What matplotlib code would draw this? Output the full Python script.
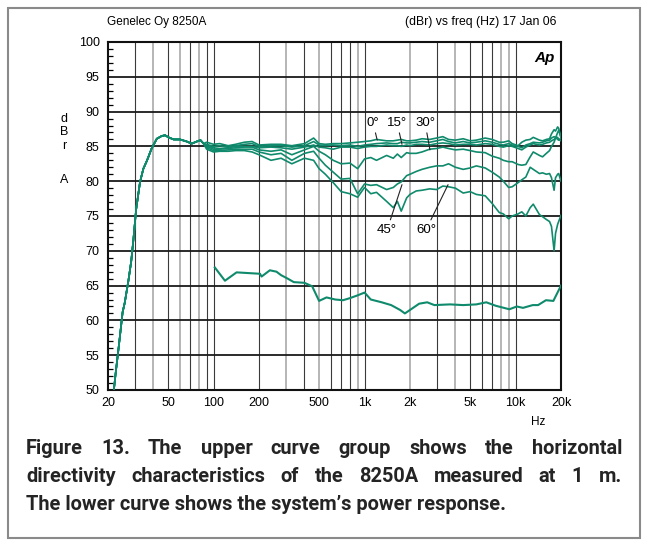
import matplotlib
matplotlib.use("Agg")
import matplotlib.pyplot as plt
from matplotlib.patches import Rectangle

plt.rcParams['font.family'] = ['Liberation Sans', 'DejaVu Sans']

# ---- values ----
# low end, identical for all directivity curves
lf_freq = [21.5, 22.5, 23.5, 25, 25.8, 27.3, 28.5, 29.4, 30.7, 32.6, 34.3, 36.3,
           38.9, 42.1, 45.4, 47.8, 50.3, 54.4, 60, 66.5, 71.7, 77.4, 81.9, 85.9]
lf_db = [48.5, 52.5, 56, 61.2, 62.5, 65.7, 68.5, 71.4, 75.9, 79.9, 81.8, 83.0,
         84.7, 86.1, 86.5, 86.6, 86.3, 86.0, 86.0, 85.7, 85.4, 85.7, 85.9, 85.4]

hf_freq = [90, 100, 110, 125, 140, 160, 180, 200,
           240, 280, 330, 400, 460, 500, 550, 620,
           700, 800, 900, 1000, 1100, 1200, 1400, 1550,
           1650, 1750, 1900, 2000, 2200, 2400, 2700, 3000,
           3300, 3600, 4000, 4500, 5000, 5500, 6300, 7000,
           7800, 8300, 9000, 9500, 10400, 11000, 11700, 12500,
           13100, 14400, 15100, 16000, 16800, 17300, 18000, 18400,
           19000, 19300, 20000]

db_0a = [85.6, 85.3, 85.4, 85.1, 85.3, 85.6, 85.7, 85.2,
         85.3, 85.3, 85.1, 85.4, 86.2, 85.4, 85.3, 85.4,
         85.4, 85.5, 85.6, 85.7, 85.8, 86.0, 85.8, 85.8,
         85.9, 86.0, 85.8, 85.8, 85.9, 86.1, 86.0, 86.2,
         86.4, 86.0, 85.9, 86.1, 85.8, 85.9, 86.2, 86.0,
         85.6, 85.6, 85.8, 85.4, 85.1, 85.6, 85.9, 86.0,
         86.3, 85.9, 85.8, 86.0, 86.1, 86.8, 87.4, 87.2,
         87.8, 87.6, 86.3]
db_0b = [85.3, 85.0, 85.1, 84.9, 85.1, 85.3, 85.4, 85.0,
         85.1, 85.1, 84.9, 85.1, 85.7, 85.2, 85.1, 85.2,
         85.1, 85.2, 85.0, 85.2, 85.3, 85.4, 85.5, 85.4,
         85.4, 85.6, 85.5, 85.5, 85.6, 85.7, 85.6, 85.8,
         86.0, 85.7, 85.5, 85.7, 85.5, 85.6, 85.8, 85.6,
         85.3, 85.2, 85.4, 85.2, 85.0, 84.8, 85.2, 85.4,
         85.6, 85.5, 85.6, 85.8, 85.9, 86.2, 86.4, 86.3,
         86.0, 85.9, 86.2]
db_15 = [85.1, 84.8, 84.7, 84.8, 85.0, 85.0, 85.0, 84.8,
         84.9, 84.8, 84.6, 84.9, 85.2, 84.9, 84.8, 84.6,
         84.9, 84.9, 84.7, 84.9, 85.0, 85.0, 85.2, 85.1,
         85.1, 85.0, 85.2, 85.1, 85.3, 85.3, 85.2, 85.4,
         85.5, 85.4, 85.2, 85.3, 85.3, 85.2, 85.4, 85.3,
         85.0, 84.9, 85.1, 85.0, 84.7, 84.5, 84.9, 85.2,
         85.4, 85.2, 85.3, 85.5, 85.6, 85.8, 86.0, 86.2,
         86.3, 86.0, 85.8]
db_30 = [85.0, 84.6, 84.6, 84.7, 84.8, 84.9, 84.9, 84.5,
         84.3, 84.5, 83.8, 84.5, 85.0, 84.3, 83.8, 83.0,
         82.5, 82.6, 81.8, 83.2, 83.4, 83.0, 83.7, 83.3,
         83.9, 83.4, 84.1, 84.0, 84.0, 84.2, 84.6, 84.7,
         84.9, 84.7, 84.5, 84.6, 84.4, 84.2, 84.1, 83.6,
         83.3, 83.0, 82.8, 82.8, 82.4, 82.3, 82.4, 83.5,
         84.2, 83.7, 83.5, 84.0, 84.4, 85.0, 85.6, 86.2,
         87.0, 87.3, 86.3]
db_45 = [84.8, 84.4, 84.4, 84.5, 84.6, 84.6, 84.6, 84.2,
         83.8, 84.0, 83.0, 84.0, 84.3, 83.3, 82.3, 81.3,
         80.3, 80.4, 78.2, 79.6, 79.4, 79.5, 78.8, 79.1,
         79.6, 79.9, 80.8, 81.0, 81.4, 81.7, 82.0, 82.2,
         82.2, 82.5, 82.0, 81.7, 81.9, 82.2, 81.9, 81.3,
         80.6, 80.0, 79.1, 79.2, 79.8, 80.2, 80.6, 82.0,
         81.7, 81.1, 81.2, 81.0, 81.1, 80.5, 78.7, 80.5,
         81.0, 81.1, 80.0]
db_60 = [84.6, 84.2, 84.3, 84.3, 84.4, 84.4, 84.2, 83.8,
         83.0, 83.3, 82.5, 83.3, 83.0, 81.8, 81.0, 79.8,
         78.5, 78.2, 77.7, 79.1, 78.2, 78.4, 77.1, 76.2,
         77.1, 75.7, 77.6, 78.1, 78.6, 78.7, 78.9, 78.8,
         79.3, 79.2, 79.0, 78.3, 78.5, 78.1, 77.9, 76.8,
         75.5, 75.3, 74.6, 75.0, 75.3, 75.6, 75.0, 76.2,
         76.7, 75.2, 74.9, 74.5, 74.2, 73.5, 70.0, 72.5,
         73.8, 74.2, 75.1]

power_freq = [102, 119, 142, 203, 208, 236, 261, 280, 310, 340,
              400, 450, 500, 560, 640, 720, 800, 900, 1000, 1100,
              1300, 1500, 1720, 1850, 2000, 2300, 2600, 2900, 3680, 4500,
              5500, 6400, 7400, 9100, 10200, 11200, 13000, 14100, 15900, 17800,
              20000]
power_db = [67.6, 65.7, 66.9, 66.7, 66.3, 67.2, 67.0, 66.5, 66.0, 65.5,
            65.4, 64.9, 62.8, 63.3, 63.0, 62.9, 63.2, 63.6, 64.0, 63.0,
            62.6, 62.2, 61.5, 61.0, 61.5, 62.4, 62.6, 62.2, 62.3, 62.2,
            62.3, 62.6, 62.1, 61.6, 62.0, 61.8, 62.2, 62.2, 62.9, 62.8,
            65.0]

x_ticks = [20, 50, 100, 200, 500, 1000, 2000, 5000, 10000, 20000]
x_labels = ['20', '50', '100', '200', '500', '1k', '2k', '5k', '10k', '20k']
y_ticks = [50, 55, 60, 65, 70, 75, 80, 85, 90, 95, 100]

caption = ["Figure 13. The upper curve group shows the horizontal",
           "directivity characteristics of the 8250A measured at 1 m.",
           "The lower curve shows the system\u2019s power response."]

green = '#108a6c'
W, H = 648, 545
fig = plt.figure(figsize=(W / 100, H / 100), dpi=100)
fig.patches.append(Rectangle((8 / W, 0.012), 632 / W, 1 - 8 / H - 0.012,
                             transform=fig.transFigure, fill=False,
                             edgecolor='#8a8a8a', lw=1.5))

ax = fig.add_axes([108 / W, 1 - 390 / H, 453 / W, 348 / H])
ax.set_xscale('log')
ax.set_xlim(20, 20000)
ax.set_ylim(50, 100)

# grid: vertical lines alternate dark / light grey
gray_lines = {40, 60, 80, 300, 500, 900, 1000, 2000, 4000, 8000, 9000}
for dec in [10, 100, 1000]:
    for m in range(2 if dec > 10 else 3, 10):
        f = m * dec
        if f in gray_lines:
            ax.axvline(f, color='#b0b0b0', lw=1.3, zorder=1)
        else:
            ax.axvline(f, color='#3a3a3a', lw=0.8, zorder=1)
    ax.axvline(dec * 10, color='#3a3a3a', lw=0.8, zorder=1)
for y in y_ticks[1:-1]:
    ax.axhline(y, color='#1a1a1a', lw=1.3, zorder=1)

for curve in [db_0a, db_0b, db_15, db_30, db_45, db_60]:
    ax.plot(lf_freq + hf_freq, lf_db + curve, color=green, lw=1.2, zorder=3)
ax.plot(power_freq, power_db, color=green, lw=1.5, zorder=3)

for s in ax.spines.values():
    s.set_linewidth(1.5)
    s.set_color('#111111')

ax.set_xticks(x_ticks)
ax.set_xticklabels(x_labels)
ax.xaxis.set_minor_locator(matplotlib.ticker.NullLocator())
ax.set_yticks(y_ticks)
ax.set_yticks(range(50, 101), minor=True)
ax.tick_params(axis='x', length=0, pad=5, labelsize=9)
ax.tick_params(axis='y', which='major', length=0, pad=6, labelsize=9)
ax.tick_params(axis='y', which='minor', length=3.5, direction='in', width=0.9)

# angle labels
ann = dict(arrowprops=dict(arrowstyle='-', color='#222222', lw=0.8,
                           shrinkA=1, shrinkB=0),
           fontsize=9.5, ha='center', va='center', zorder=5)
ax.annotate('0\u00b0', xy=(1213, 85.9), xytext=(1138, 88.4), **ann)
ax.annotate('15\u00b0', xy=(1770, 85.3), xytext=(1641, 88.4), **ann)
ax.annotate('30\u00b0', xy=(2712, 84.5), xytext=(2514, 88.4), **ann)
ax.annotate('45\u00b0', xy=(1770, 79.5), xytext=(1409, 73.0), **ann)
ax.annotate('60\u00b0', xy=(3573, 79.5), xytext=(2553, 73.0), **ann)

ax.text(0.985, 0.955, 'Ap', transform=ax.transAxes, ha='right', va='center',
        fontsize=11, fontweight='bold', fontstyle='italic')

fig.text(107 / W, 1 - 22 / H, 'Genelec Oy 8250A', fontsize=8.5, va='center')
fig.text(556 / W, 1 - 22 / H, '(dBr) vs freq (Hz) 17 Jan 06', fontsize=8.8,
         va='center', ha='right')
for ch, yy in zip('dBrA', [119, 132, 146, 180]):
    fig.text(64 / W, 1 - yy / H, ch, fontsize=9, ha='center', va='center')
fig.text(538 / W, 1 - 422 / H, 'Hz', fontsize=8.5, ha='center', va='center')

# caption, first two lines justified
cap_font = dict(fontweight='bold', family=['Roboto', 'DejaVu Sans'],
                color='#242424', va='center')
r = fig.canvas.get_renderer()
t = fig.text(0, 0, caption[2], fontsize=10, **cap_font)
cap_fs = 10 * 479 / t.get_window_extent(r).width
t.remove()
x0, x1 = 26, 622
for i, (line, yy) in enumerate(zip(caption, [449, 477, 504])):
    if i == 2:
        fig.text(x0 / W, 1 - yy / H, line, fontsize=cap_fs, **cap_font)
        continue
    words = line.split(' ')
    texts = [fig.text(0, 1 - yy / H, w, fontsize=cap_fs, **cap_font)
             for w in words]
    widths = [tx.get_window_extent(r).width for tx in texts]
    gap = (x1 - x0 - sum(widths)) / (len(words) - 1)
    x = x0
    for tx, w in zip(texts, widths):
        tx.set_x(x / W)
        x += w + gap

fig.savefig('out.png', dpi=100)
